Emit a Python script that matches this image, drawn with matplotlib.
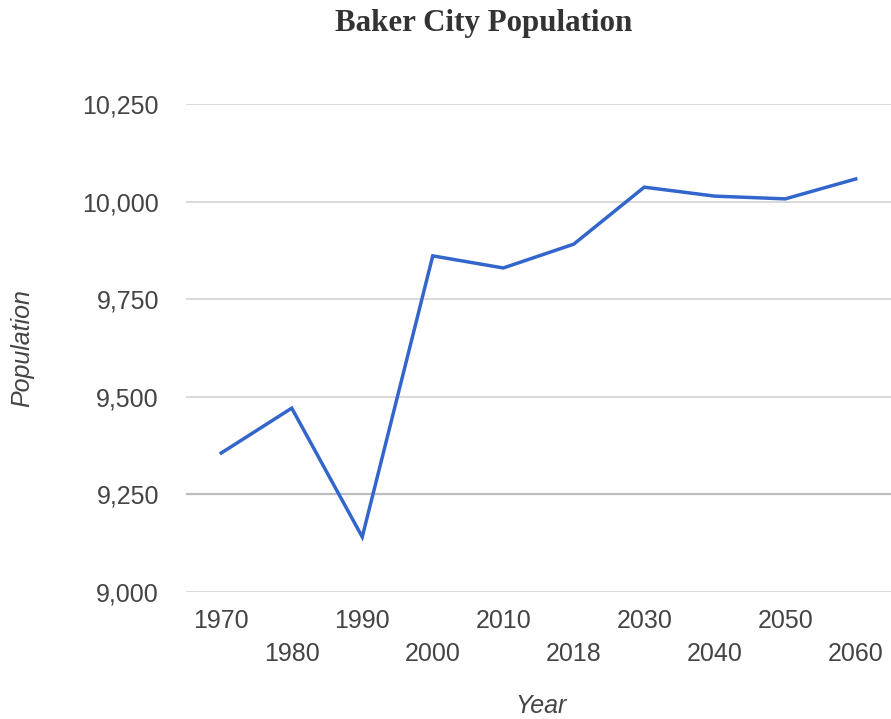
import matplotlib
matplotlib.use("Agg")
import matplotlib.pyplot as plt

# ===== Data =====
years = ["1970", "1980", "1990", "2000", "2010", "2018", "2030", "2040", "2050", "2060"]
population = [9356, 9471, 9141, 9861, 9830, 9891, 10037, 10014, 10007, 10058]
y_ticks = [9000, 9250, 9500, 9750, 10000, 10250]

# ===== Figure =====
W, H = 891, 719
fig = plt.figure(figsize=(W / 100, H / 100), dpi=100)
ax = fig.add_axes([186 / W, 1 - 592 / H, (891 - 186) / W, (592 - 104) / H])

x = list(range(len(years)))
ax.plot(x, population, color="#3366cc", linewidth=2.5, solid_joinstyle="miter", zorder=3)

ax.set_xlim(-0.5, len(years) - 0.5)
ax.set_ylim(y_ticks[0], y_ticks[-1])

# gridlines (9,250 one is a bit darker in the original)
for v in y_ticks:
    c = "#bdbdbd" if v == 9250 else "#d3d3d3"
    lw = 1.6 if v == 9250 else 1.2
    ax.axhline(v, color=c, linewidth=lw, zorder=1)

for s in ax.spines.values():
    s.set_visible(False)

ax.set_yticks(y_ticks)
ax.set_yticklabels([f"{v:,}" for v in y_ticks])
ax.tick_params(axis="y", length=0, pad=19.5, labelsize=18, labelcolor="#444444")
for lbl in ax.get_yticklabels():
    lbl.set_fontfamily("Liberation Sans")

# staggered x labels: even on first row, odd on second row
ax.set_xticks(x[0::2])
ax.set_xticklabels(years[0::2])
ax.set_xticks(x[1::2], minor=True)
ax.set_xticklabels(years[1::2], minor=True)
ax.tick_params(axis="x", which="major", length=0, pad=12, labelsize=18, labelcolor="#444444")
ax.tick_params(axis="x", which="minor", length=0, pad=36, labelsize=18, labelcolor="#444444")
for lbl in ax.get_xticklabels() + ax.get_xticklabels(minor=True):
    lbl.set_fontfamily("Liberation Sans")

# ===== Titles =====
fig.text(484 / W, 1 - 23 / H, "Baker City Population", ha="center", va="center",
         fontsize=22.3, fontweight="bold", family="Liberation Serif", color="#333333")
fig.text(22 / W, 1 - 348 / H, "Population", ha="center", va="center", rotation=90,
         fontsize=18, style="italic", family="Liberation Sans", color="#444444")
fig.text(541 / W, 1 - 706 / H, "Year", ha="center", va="center",
         fontsize=18, style="italic", family="Liberation Sans", color="#444444")

fig.savefig("out.png", dpi=100)
